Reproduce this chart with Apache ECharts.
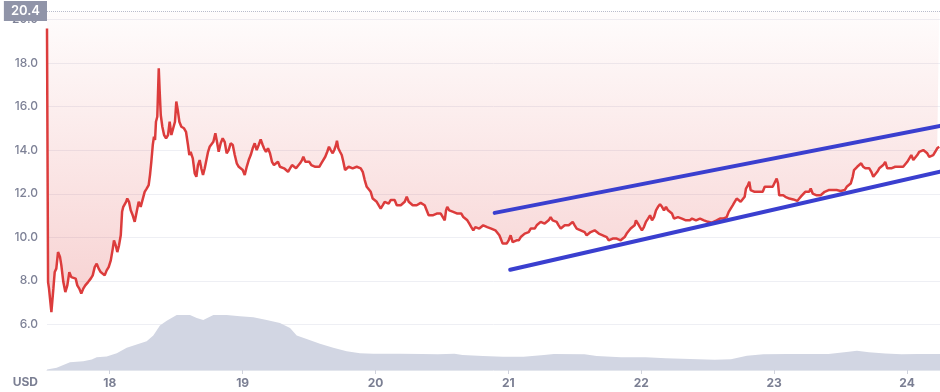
<!DOCTYPE html>
<html><head><meta charset="utf-8">
<script src="https://cdn.jsdelivr.net/npm/echarts@6/dist/echarts.min.js"></script>
<style>html,body{margin:0;padding:0;background:#fff}#c{width:940px;height:392px}</style>
</head><body><div id="c"></div>
<script>
// ---- data ----
const dayTicks = [18, 19, 20, 21, 22, 23, 24];
const priceTicks = [6, 8, 10, 12, 14, 16, 18, 20];
const dayRange = [17.528, 24.248];
const priceRange = [3.9, 20.4];
const priceMaxLabel = 20.4;
const currency = 'USD';

// [day, price USD]
const pricePoints = [
[17.528,19.6],[17.536,7.94],[17.543,7.65],[17.561,6.56],[17.576,7.64],[17.586,8.40],[17.598,8.56],[17.611,9.32],[17.626,9.09],[17.636,8.71],
[17.651,7.94],[17.666,7.48],[17.681,7.79],[17.696,8.40],[17.711,8.17],[17.726,8.25],[17.744,8.10],[17.756,7.79],[17.771,7.64],[17.786,7.41],
[17.801,7.64],[17.816,7.79],[17.837,7.94],[17.857,8.10],[17.872,8.25],[17.887,8.63],[17.902,8.79],[17.917,8.56],[17.932,8.40],[17.947,8.48],
[17.962,8.25],[17.977,8.48],[17.992,8.63],[18.008,8.94],[18.023,9.48],[18.032,9.86],[18.045,9.63],[18.057,9.32],[18.070,9.63],[18.083,10.09],
[18.093,11.17],[18.102,11.40],[18.113,11.32],[18.123,11.63],[18.132,11.78],[18.145,11.63],[18.158,11.24],[18.173,11.01],[18.188,10.71],[18.203,11.17],
[18.218,11.63],[18.233,11.40],[18.248,11.47],[18.263,12.09],[18.278,12.24],[18.293,12.40],[18.303,12.86],[18.313,13.47],[18.324,14.24],[18.333,14.62],
[18.341,14.47],[18.348,15.31],[18.358,15.54],[18.369,17.77],[18.376,16.70],[18.384,15.62],[18.396,15.08],[18.409,14.70],[18.424,14.55],[18.439,14.70],
[18.451,15.31],[18.464,14.70],[18.479,14.78],[18.491,15.31],[18.501,16.24],[18.512,15.85],[18.524,15.31],[18.539,15.08],[18.559,15.01],[18.574,14.85],
[18.589,14.24],[18.599,13.78],[18.609,13.93],[18.625,13.63],[18.640,12.93],[18.652,12.78],[18.664,13.32],[18.677,13.55],[18.689,13.17],[18.702,12.86],
[18.715,13.17],[18.727,13.09],[18.740,13.93],[18.752,14.16],[18.764,14.09],[18.780,14.39],[18.795,14.78],[18.807,14.39],[18.820,13.93],[18.835,14.32],
[18.850,14.55],[18.865,14.39],[18.880,13.86],[18.895,14.01],[18.910,14.32],[18.926,14.24],[18.941,13.78],[18.956,13.40],[18.971,13.24],[18.986,13.32],
[19.001,13.09],[19.016,12.86],[19.031,13.24],[19.046,13.55],[19.061,13.78],[19.076,14.09],[19.091,14.32],[19.106,14.01],[19.121,14.24],[19.136,14.50],
[19.151,14.24],[19.161,14.09],[19.176,13.93],[19.191,14.09],[19.206,13.86],[19.221,13.47],[19.236,13.32],[19.251,13.40],[19.266,13.47],[19.281,13.24],
[19.296,13.24],[19.312,13.17],[19.327,13.09],[19.342,13.01],[19.357,13.17],[19.372,13.32],[19.387,13.40],[19.402,13.17],[19.417,13.24],[19.432,13.40],
[19.447,13.55],[19.457,13.70],[19.472,13.47],[19.487,13.55],[19.502,13.47],[19.517,13.32],[19.532,13.24],[19.547,13.24],[19.562,13.17],[19.577,13.24],
[19.592,13.40],[19.607,13.47],[19.622,13.70],[19.637,13.93],[19.650,14.16],[19.663,14.01],[19.678,13.86],[19.690,14.01],[19.703,14.24],[19.710,14.44],
[19.720,14.09],[19.733,13.93],[19.746,13.78],[19.758,13.47],[19.771,13.09],[19.783,13.17],[19.798,13.24],[19.813,13.17],[19.828,13.17],[19.843,13.24],
[19.859,13.24],[19.874,13.17],[19.889,13.17],[19.904,13.01],[19.919,12.63],[19.934,12.32],[19.949,12.24],[19.964,12.09],[19.979,11.78],[19.994,11.71],
[20.009,11.63],[20.024,11.71],[20.039,11.32],[20.054,11.47],[20.069,11.63],[20.084,11.71],[20.099,11.55],[20.114,11.71],[20.129,11.63],[20.144,11.71],
[20.160,11.47],[20.175,11.40],[20.190,11.47],[20.205,11.55],[20.220,11.63],[20.235,11.86],[20.250,11.63],[20.265,11.55],[20.280,11.47],[20.295,11.55],
[20.310,11.47],[20.325,11.55],[20.340,11.58],[20.355,11.63],[20.370,11.47],[20.385,11.24],[20.400,11.01],[20.415,11.09],[20.430,11.01],[20.445,11.09],
[20.461,11.09],[20.476,11.17],[20.491,11.09],[20.506,11.01],[20.521,10.78],[20.531,11.24],[20.540,11.40],[20.555,11.24],[20.570,11.32],[20.585,11.17],
[20.600,11.09],[20.616,11.09],[20.631,11.01],[20.646,11.09],[20.661,10.93],[20.676,10.86],[20.691,10.78],[20.706,10.63],[20.721,10.47],[20.736,10.32],
[20.751,10.47],[20.766,10.47],[20.781,10.40],[20.796,10.47],[20.811,10.55],[20.826,10.60],[20.841,10.47],[20.856,10.40],[20.871,10.40],[20.886,10.36],
[20.902,10.32],[20.917,10.24],[20.932,10.09],[20.942,9.94],[20.957,9.71],[20.972,9.63],[20.987,9.71],[21.002,9.86],[21.017,10.09],[21.032,9.78],
[21.047,9.71],[21.062,9.86],[21.078,9.86],[21.093,10.01],[21.108,10.09],[21.123,10.17],[21.138,10.09],[21.153,10.24],[21.168,10.40],[21.183,10.32],
[21.198,10.40],[21.213,10.55],[21.228,10.63],[21.243,10.71],[21.258,10.78],[21.273,10.63],[21.288,10.71],[21.303,10.78],[21.318,10.93],[21.333,10.78],
[21.348,10.71],[21.363,10.71],[21.378,10.55],[21.394,10.40],[21.409,10.47],[21.424,10.55],[21.439,10.47],[21.454,10.55],[21.469,10.55],[21.484,10.71],
[21.499,10.55],[21.514,10.40],[21.529,10.40],[21.544,10.32],[21.559,10.24],[21.574,10.24],[21.589,10.09],[21.604,10.17],[21.619,10.24],[21.634,10.24],
[21.649,10.32],[21.664,10.24],[21.680,10.17],[21.695,10.20],[21.710,10.09],[21.725,10.09],[21.740,10.01],[21.755,9.86],[21.770,9.94],[21.785,9.94],
[21.800,9.86],[21.815,9.94],[21.830,9.86],[21.845,9.86],[21.860,9.94],[21.875,10.01],[21.890,10.17],[21.905,10.24],[21.920,10.40],[21.935,10.32],
[21.950,10.55],[21.960,10.78],[21.975,10.63],[21.990,10.47],[22.005,10.32],[22.020,10.47],[22.035,10.71],[22.051,10.86],[22.066,11.01],[22.081,10.78],
[22.096,10.93],[22.111,11.24],[22.126,11.40],[22.141,11.52],[22.156,11.40],[22.171,11.24],[22.186,11.40],[22.201,11.24],[22.216,11.17],[22.231,11.09],
[22.246,10.86],[22.261,10.86],[22.276,10.93],[22.291,10.93],[22.306,10.86],[22.321,10.78],[22.336,10.78],[22.351,10.81],[22.366,10.78],[22.382,10.86],
[22.397,10.81],[22.412,10.78],[22.427,10.81],[22.442,10.86],[22.457,10.78],[22.472,10.78],[22.487,10.81],[22.502,10.71],[22.517,10.71],[22.532,10.67],
[22.547,10.67],[22.567,10.78],[22.592,10.86],[22.617,10.86],[22.643,10.93],[22.658,11.17],[22.673,11.32],[22.688,11.47],[22.703,11.63],[22.718,11.78],
[22.733,11.71],[22.748,11.63],[22.763,11.55],[22.778,11.86],[22.788,12.24],[22.803,12.40],[22.813,12.55],[22.823,12.17],[22.838,12.24],[22.853,12.09],
[22.868,12.17],[22.883,12.09],[22.898,12.17],[22.914,12.09],[22.929,12.32],[22.944,12.24],[22.959,12.32],[22.974,12.24],[22.989,12.32],[23.004,12.40],
[23.019,12.70],[23.029,12.47],[23.038,11.93],[23.053,11.86],[23.068,11.93],[23.084,11.86],[23.099,11.93],[23.114,11.78],[23.129,11.78],[23.144,11.74],
[23.159,11.78],[23.174,11.67],[23.189,11.78],[23.204,11.89],[23.219,11.93],[23.234,12.09],[23.249,12.01],[23.264,12.09],[23.275,12.24],[23.290,12.01],
[23.305,12.01],[23.320,11.93],[23.335,12.01],[23.350,11.93],[23.365,12.01],[23.380,12.09],[23.395,12.17],[23.410,12.17],[23.425,12.24],[23.440,12.17],
[23.455,12.09],[23.470,12.17],[23.485,12.09],[23.500,12.13],[23.515,12.17],[23.531,12.17],[23.546,12.32],[23.561,12.40],[23.576,12.47],[23.591,12.78],
[23.601,13.09],[23.610,13.17],[23.625,13.24],[23.640,13.17],[23.655,13.40],[23.670,13.24],[23.686,13.17],[23.701,13.24],[23.716,13.17],[23.731,13.01],
[23.746,12.78],[23.761,12.86],[23.776,13.01],[23.791,13.17],[23.806,13.24],[23.821,13.32],[23.836,13.47],[23.851,13.17],[23.866,13.09],[23.881,13.17],
[23.896,13.09],[23.911,13.24],[23.926,13.32],[23.941,13.24],[23.956,13.17],[23.971,13.24],[23.986,13.32],[24.002,13.47],[24.017,13.55],[24.032,13.78],
[24.047,13.55],[24.062,13.63],[24.077,13.78],[24.092,13.93],[24.107,13.86],[24.122,14.01],[24.137,13.93],[24.152,13.86],[24.167,13.70],[24.182,13.70],
[24.197,13.78],[24.212,13.93],[24.227,14.09],[24.242,14.16]
];

// [day, volume (relative units)]
const volumePoints = [
[17.528,0.1],[17.601,0.44],[17.701,1.56],[17.801,1.76],[17.865,2.1],[17.902,2.56],[17.977,2.7],[18.053,3.36],[18.128,4.44],[18.203,5.1],
[18.278,5.76],[18.328,6.9],[18.378,8.9],[18.429,9.9],[18.504,11.04],[18.604,11.04],[18.655,10.44],[18.704,10.04],[18.780,11.04],[18.880,11.04],
[18.980,10.76],[19.081,10.56],[19.181,10.04],[19.281,9.44],[19.357,8.44],[19.407,6.9],[19.482,6.24],[19.582,5.24],[19.682,4.44],[19.783,3.76],
[19.883,3.36],[19.983,3.24],[20.184,3.24],[20.350,3.2],[20.470,3.14],[20.594,3.26],[20.655,3.0],[20.809,2.8],[20.959,2.68],[21.114,2.68],
[21.268,3.0],[21.343,3.2],[21.573,3.14],[21.664,2.8],[21.847,2.56],[22.032,2.56],[22.185,2.36],[22.366,2.22],[22.552,2.04],[22.675,2.16],
[22.795,2.88],[22.919,3.14],[23.102,3.2],[23.284,3.2],[23.409,3.2],[23.561,3.64],[23.623,3.84],[23.713,3.58],[23.837,3.32],[23.959,3.14],
[24.082,3.2],[24.248,3.2]
];
const volumeAxisMax = 72;

// trend channel lines [day, price]
const upperTrend = [[20.897, 11.12], [24.248, 15.12]];
const lowerTrend = [[21.014, 8.51], [24.248, 13.01]];

// ---- chart ----
const FONT = 'Inter, "Noto Sans", sans-serif';
const chart = echarts.init(document.getElementById('c'), null, {renderer: 'canvas'});
chart.setOption({
  animation: false,
  backgroundColor: '#ffffff',
  grid: {left: 47, right: 0, top: 11, bottom: 22, containLabel: false},
  xAxis: {
    type: 'value',
    min: dayRange[0], max: dayRange[1],
    splitNumber: 7,
    axisLine: {onZero: false, lineStyle: {color: '#e3e6ed', width: 1}},
    axisTick: {show: true, length: 4, customValues: dayTicks, lineStyle: {color: '#cfd2dc'}},
    axisLabel: {
      customValues: dayTicks, margin: 7,
      color: '#7b7f93', fontSize: 12, fontWeight: 'bold', fontFamily: FONT,
      formatter: v => (Math.abs(v - Math.round(v)) < 1e-6 ? String(Math.round(v)) : '')
    },
    splitLine: {show: false},
    name: currency, nameLocation: 'start', nameGap: 9,
    nameTextStyle: {color: '#7b7f93', fontSize: 12, fontWeight: 'bold', fontFamily: FONT,
      verticalAlign: 'top', padding: [6, 0, 0, 0]}
  },
  yAxis: [{
    type: 'value',
    min: priceRange[0], max: priceRange[1],
    splitNumber: 8,
    axisLine: {show: false},
    axisTick: {show: false, customValues: priceTicks},
    axisLabel: {
      customValues: priceTicks, margin: 9,
      color: '#7d8196', fontSize: 12, fontWeight: 500, fontFamily: FONT,
      formatter: v => (v >= 5 && Math.abs(v / 2 - Math.round(v / 2)) < 1e-6 && v <= 20.01) ? v.toFixed(1) : ''
    },
    splitLine: {show: true, lineStyle: {color: '#eeeff4', width: 1}}
  }, {
    type: 'value', show: false, min: 0, max: volumeAxisMax,
    splitLine: {show: false}
  }],
  series: [{
    name: 'volume', type: 'line', yAxisIndex: 1,
    data: volumePoints, showSymbol: false, silent: true, z: 1,
    lineStyle: {width: 0},
    areaStyle: {color: '#d2d6e3', opacity: 1}
  }, {
    name: 'price', type: 'line', yAxisIndex: 0,
    data: pricePoints, showSymbol: false, silent: true, z: 3,
    lineStyle: {color: '#dc3c3c', width: 2.5},
    areaStyle: {
      origin: 'end',
      color: new echarts.graphic.LinearGradient(0, 0, 0, 1, [
        {offset: 0, color: 'rgba(221,60,60,0.02)'},
        {offset: 1, color: 'rgba(221,60,60,0.34)'}
      ])
    },
    markLine: {
      silent: true, symbol: ['none', 'none'], animation: false,
      lineStyle: {type: 'dotted', color: '#b9bdcc', width: 1},
      label: {
        position: 'start', distance: 0,
        formatter: () => priceMaxLabel.toFixed(1),
        backgroundColor: '#9094a8', color: '#ffffff',
        fontSize: 13, fontWeight: 600, fontFamily: FONT,
        padding: [4, 7, 3, 7]
      },
      data: [{yAxis: priceMaxLabel}]
    }
  }, {
    name: 'upper', type: 'line', data: upperTrend, showSymbol: false, silent: true, z: 5,
    lineStyle: {color: '#3a3fcf', width: 4, cap: 'round'}
  }, {
    name: 'lower', type: 'line', data: lowerTrend, showSymbol: false, silent: true, z: 5,
    lineStyle: {color: '#3a3fcf', width: 4, cap: 'round'}
  }]
});
</script>
</body></html>
